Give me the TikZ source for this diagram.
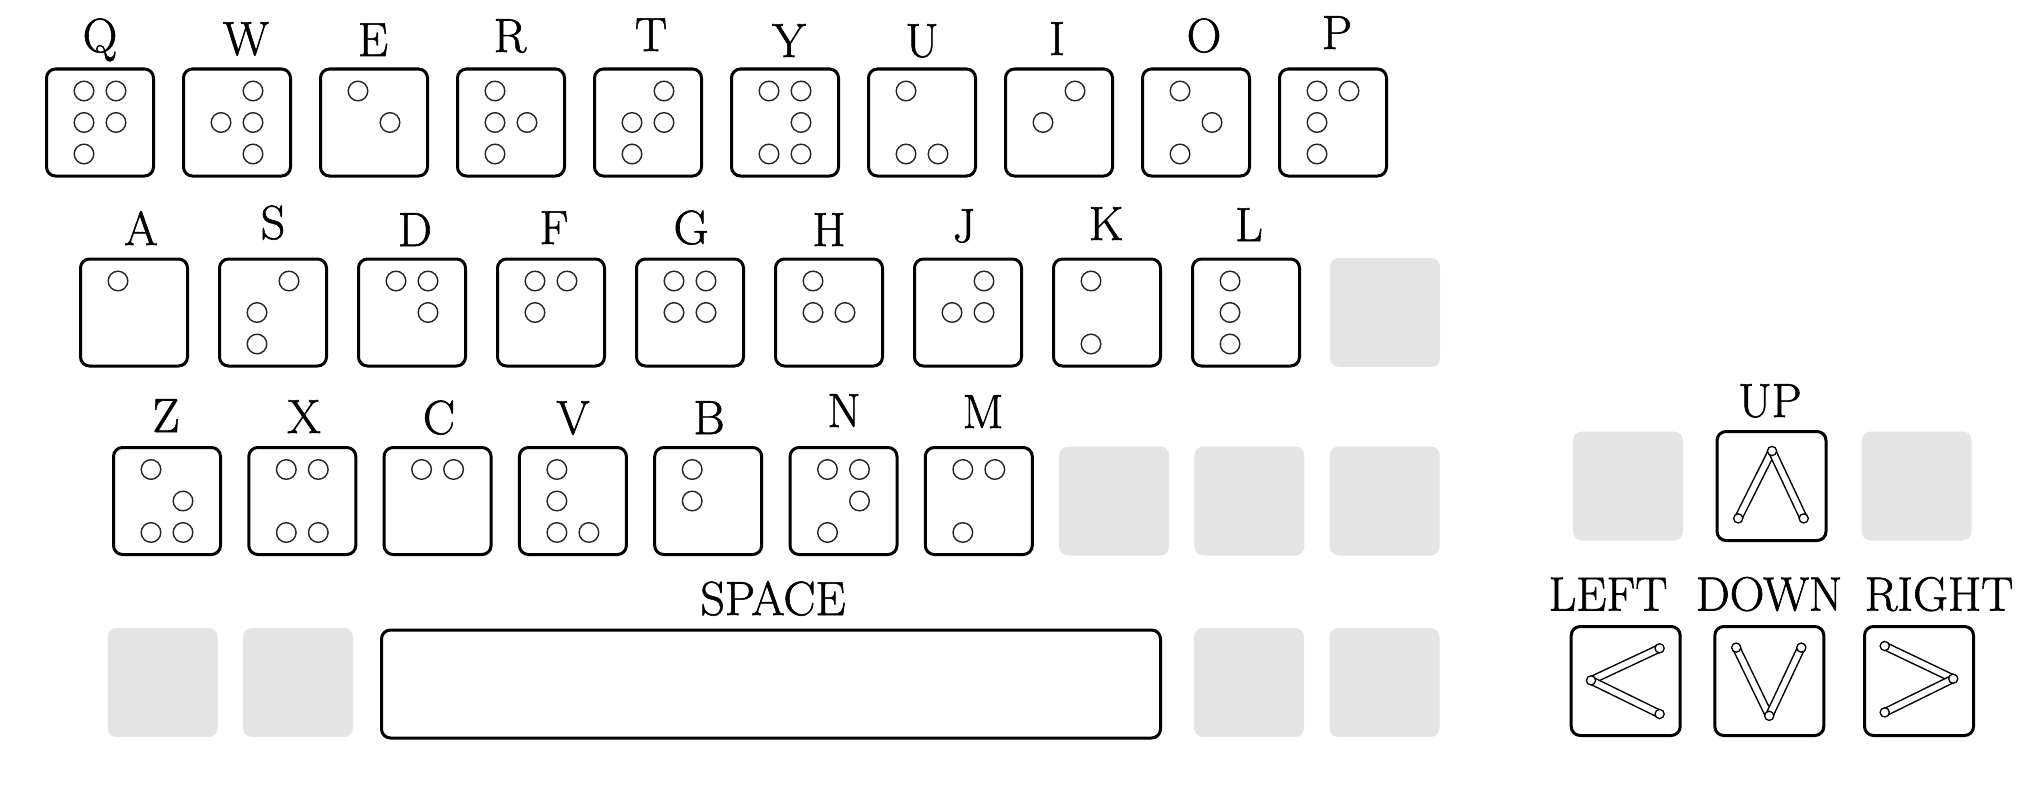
\documentclass[tikz,border=0pt]{standalone}
\usepackage{fontspec}
\newfontfamily\labfont{Latin Modern Roman}[FakeBold=1.2]
\usetikzlibrary{calc}
\definecolor{keygray}{HTML}{E4E4E4}
\tikzset{
  key/.style={draw=black, line width=3pt, rounded corners=9pt, minimum width=107pt, minimum height=107pt, inner sep=0pt, fill=white},
  blank/.style={fill=keygray, rounded corners=9pt, minimum width=110pt, minimum height=109pt, inner sep=0pt},
  dotc/.style={draw=black!85, line width=1.4pt},
  lab/.style={anchor=base, inner sep=0pt, font=\labfont\fontsize{48}{52}\selectfont},
  stroke/.style={draw=black, line width=1.5pt, double=white, double distance=5.8pt, line cap=round},
  endc/.style={draw=black, line width=1.3pt, fill=white},
}
\newcommand{\bkey}[4]{%
  \node[key] (#1) at (#2,#3) {};
  \foreach \d in {#4} {
    \pgfmathsetmacro{\dx}{\d>3 ? 16 : -16}
    \pgfmathsetmacro{\dy}{(mod(\d-1,3)-1)*31.5}
    \draw[dotc] ($(#1.center)+(\dx,\dy)$) circle[radius=9.8pt];
  }
}
\newcommand{\klab}[4]{\node[lab] (#1) at (#2,#3) {#4};}
\newcommand{\arrowglyph}[3]{%
  \draw[stroke] (#1) -- (#2);
  \draw[stroke] (#2) -- (#3);
  \foreach \p in {#1,#2,#3} {\draw[endc] (\p) circle[radius=4.6pt];}
}
\begin{document}
\begin{tikzpicture}[x=1pt,y=-1pt]
\useasboundingbox (0,0) rectangle (2036,792);
% Row 1
\bkey{q}{100}{122.5}{1,2,3,4,5}
\bkey{w}{237}{122.5}{2,4,5,6}
\bkey{e}{374}{122.5}{1,5}
\bkey{r}{511}{122.5}{1,2,3,5}
\bkey{t}{648}{122.5}{2,3,4,5}
\bkey{y}{785}{122.5}{1,3,4,5,6}
\bkey{u}{922}{122.5}{1,3,6}
\bkey{i}{1059}{122.5}{2,4}
\bkey{o}{1196}{122.5}{1,3,5}
\bkey{p}{1333}{122.5}{1,2,3,4}
\klab{ql}{100}{52}{Q}
\klab{wl}{246}{55}{W}
\klab{el}{373}{56}{E}
\klab{rl}{510}{52}{R}
\klab{tl}{651}{51}{T}
\klab{yl}{789}{57}{Y}
\klab{ul}{922}{57}{U}
\klab{il}{1057}{55}{I}
\klab{ol}{1204}{52}{O}
\klab{pl}{1337}{49}{P}
% Row 2
\bkey{a}{134}{312.5}{1}
\bkey{s}{273}{312.5}{2,3,4}
\bkey{d}{412}{312.5}{1,4,5}
\bkey{f}{551}{312.5}{1,2,4}
\bkey{g}{690}{312.5}{1,2,4,5}
\bkey{h}{829}{312.5}{1,2,5}
\bkey{j}{968}{312.5}{2,4,5}
\bkey{k}{1107}{312.5}{1,3}
\bkey{l}{1246}{312.5}{1,2,3}
\node[blank] (b2) at (1385,312.5) {};
\klab{al}{141}{245}{A}
\klab{sl}{273}{239}{S}
\klab{dl}{415}{246}{D}
\klab{fl}{554}{244}{F}
\klab{gl}{691}{244}{G}
\klab{hl}{829}{246}{H}
\klab{jl}{964}{242}{J}
\klab{kl}{1106}{240}{K}
\klab{ll}{1249}{241}{L}
% Row 3
\bkey{z}{167}{501}{1,3,5,6}
\bkey{x}{302.3}{501}{1,3,4,6}
\bkey{c}{437.6}{501}{1,4}
\bkey{v}{572.9}{501}{1,2,3,6}
\bkey{b}{708.2}{501}{1,2}
\bkey{n}{843.5}{501}{1,3,4,5}
\bkey{m}{978.8}{501}{1,3,4}
\node[blank] (b3a) at (1114.1,501) {};
\node[blank] (b3b) at (1249.4,501) {};
\node[blank] (b3c) at (1384.7,501) {};
\klab{zl}{166}{432}{Z}
\klab{xl}{304}{433}{X}
\klab{cl}{439}{434}{C}
\klab{vl}{573}{434}{V}
\klab{bl}{709}{434}{B}
\klab{nl}{844}{427}{N}
\klab{ml}{983}{428}{M}
% Row 4
\node[blank] (b4a) at (162.5,682.5) {};
\node[blank] (b4b) at (298,682.5) {};
\node[key, minimum width=779pt, minimum height=108pt] (space) at (771,684) {};
\node[blank] (b4c) at (1249,682.5) {};
\node[blank] (b4d) at (1384.5,682.5) {};
\node[lab] (spacel) at (773,615) {SPACE};
% Arrow cluster
\node[blank] (b5a) at (1628,486) {};
\node[key, minimum width=109pt, minimum height=109pt] (up) at (1771.5,486) {};
\node[blank] (b5b) at (1916.6,486) {};
\node[key, minimum width=109pt, minimum height=109pt] (left) at (1625.7,681) {};
\node[key, minimum width=109pt, minimum height=109pt] (down) at (1769.3,681) {};
\node[key, minimum width=109pt, minimum height=109pt] (right) at (1919,681) {};
\node[lab] (upl) at (1770,417) {UP};
\node[lab] (leftl) at (1608,610.5) {LEFT};
\node[lab] (downl) at (1769,610.5) {DOWN};
\node[lab] (rightl) at (1939,610.5) {RIGHT};
% arrow glyphs
\coordinate (u1) at (1738.2,518.4);
\coordinate (u2) at (1772,451);
\coordinate (u3) at (1803.7,518.4);
\coordinate (l1) at (1659.6,648.3);
\coordinate (l2) at (1591,680.4);
\coordinate (l3) at (1659.6,714);
\coordinate (d1) at (1736.2,647.6);
\coordinate (d2) at (1769.2,715.8);
\coordinate (d3) at (1801.3,647.6);
\coordinate (r1) at (1884.7,646);
\coordinate (r2) at (1953.2,678.7);
\coordinate (r3) at (1884.7,712.4);
\arrowglyph{u1}{u2}{u3}
\arrowglyph{l1}{l2}{l3}
\arrowglyph{d1}{d2}{d3}
\arrowglyph{r1}{r2}{r3}
\end{tikzpicture}
\end{document}
